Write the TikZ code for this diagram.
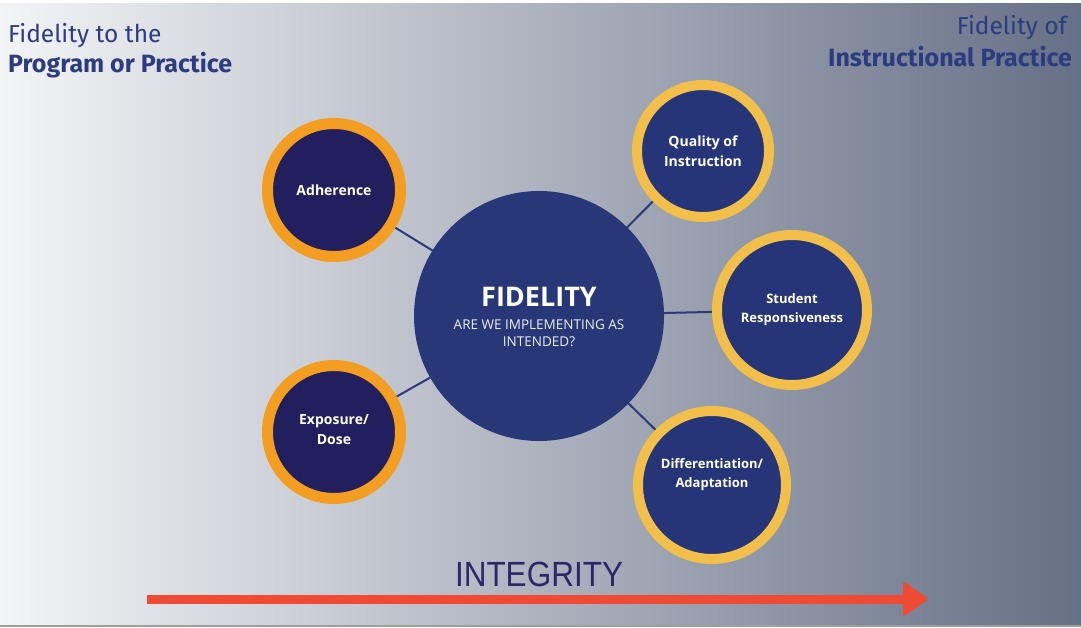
\documentclass[tikz,border=0pt]{standalone}
\usepackage{fontspec}
\setmainfont{Open Sans}
\newfontfamily\headfont{Fira Sans}
\newfontfamily\integfont[FakeStretch=0.9]{Liberation Sans}
\usetikzlibrary{backgrounds}
\pgfdeclarelayer{edges}
\pgfsetlayers{background,edges,main}

\definecolor{bgleft}{RGB}{243,244,246}
\definecolor{bgmid}{RGB}{186,191,202}
\definecolor{bgright}{RGB}{102,112,134}
\definecolor{headblue}{RGB}{44,60,128}
\definecolor{hubblue}{RGB}{39,55,119}
\definecolor{innernavy}{RGB}{33,31,94}
\definecolor{innerblue}{RGB}{37,53,120}
\definecolor{ringorange}{RGB}{243,157,33}
\definecolor{ringyellow}{RGB}{242,192,74}
\definecolor{spokeblue}{RGB}{43,58,120}
\definecolor{integblue}{RGB}{40,40,106}
\definecolor{arrowred}{RGB}{239,74,51}

\tikzset{
  hub/.style={circle, fill=hubblue, minimum size=250pt, inner sep=0pt,
    text=white, align=center},
  petal/.style={circle, inner sep=0pt, text=white, align=center},
  warmpetal/.style={petal, fill=innernavy, draw=ringorange, line width=11pt,
    minimum size=133pt, font=\bfseries\fontsize{14}{20}\selectfont},
  coolpetal/.style={petal, fill=innerblue, draw=ringyellow, line width=10pt,
    font=\bfseries\fontsize{13}{19}\selectfont},
  petaltext/.style={text=white, align=center, inner sep=0pt,
    font=\bfseries\fontsize{13}{19}\selectfont},
  spoke/.style={draw=spokeblue, line width=2pt},
  headreg/.style={font=\headfont\fontsize{24.5}{28}\selectfont, text=headblue, inner sep=0pt},
  headbold/.style={font=\headfont\bfseries\fontsize{25}{28}\selectfont, text=headblue, inner sep=0pt},
}

\begin{document}
\begin{tikzpicture}[x=1pt, y=-1pt]
\useasboundingbox (0,0) rectangle (1081,628);

% backdrop: pale-to-slate horizontal gradient with thin frame lines
\begin{pgfonlayer}{background}
  \fill[white] (0,0) rectangle (1081,628);
  \shade[left color=bgleft, middle color=bgmid, right color=bgright] (0,4) rectangle (1081,625);
  \fill[black!38] (0,625) rectangle (1081,627);
\end{pgfonlayer}

% corner headings
\node[headreg, anchor=base west] (lefttop) at (8,43) {Fidelity to the};
\node[headbold, anchor=base west] (leftbot) at (8,73) {Program or Practice};
\node[headreg, anchor=base east] (righttop) at (1067,35) {Fidelity of};
\node[headbold, anchor=base east] (rightbot) at (1072,67) {Instructional Practice};

% central hub
\node[hub] (fid) at (539,316) {};
\node[font=\bfseries\fontsize{27}{30}\selectfont, text=white] (fidtitle) at (539,297) {FIDELITY};
\node[font=\fontsize{13.5}{17}\selectfont, text=white!92!hubblue, align=center] (fidsub) at (539,333)
  {ARE WE IMPLEMENTING AS\\INTENDED?};

% surrounding components
\node[warmpetal] (adh) at (334,190) {Adherence};
\node[warmpetal] (expo) at (334,432) {};
\node[petaltext, font=\bfseries\fontsize{14}{20}\selectfont] (expotext) at (334,430) {Exposure/\\Dose};
\node[coolpetal, minimum size=132pt, font=\bfseries\fontsize{14}{20}\selectfont] (qual) at (703,151) {Quality of\\Instruction};
\node[coolpetal, minimum size=150pt] (stud) at (792,310) {Student\\Responsiveness};
\node[coolpetal, minimum size=148pt] (diff) at (712,485) {};
\node[petaltext] (difftext) at (712,475) {Differentiation/\\Adaptation};

% spokes from hub to each component
\begin{pgfonlayer}{edges}
  \draw[spoke] (fid.center) -- (adh.center);
  \draw[spoke] (fid.center) -- (expo.center);
  \draw[spoke] (fid.center) -- (qual.center);
  \draw[spoke] (fid.center) -- (stud.center);
  \draw[spoke] (fid.center) -- (diff.center);
\end{pgfonlayer}

% integrity scale
\node[font=\integfont\fontsize{35}{40}\selectfont, text=integblue] (integ) at (539,574) {INTEGRITY};
\coordinate (arrowstart) at (147,599);
\coordinate (arrowend) at (906,599);
\draw[arrowred, line width=9pt] (arrowstart) -- (arrowend);
\fill[arrowred, rounded corners=2.5pt] (903,581) -- (929,599) -- (903,617) -- cycle;
\end{tikzpicture}
\end{document}
